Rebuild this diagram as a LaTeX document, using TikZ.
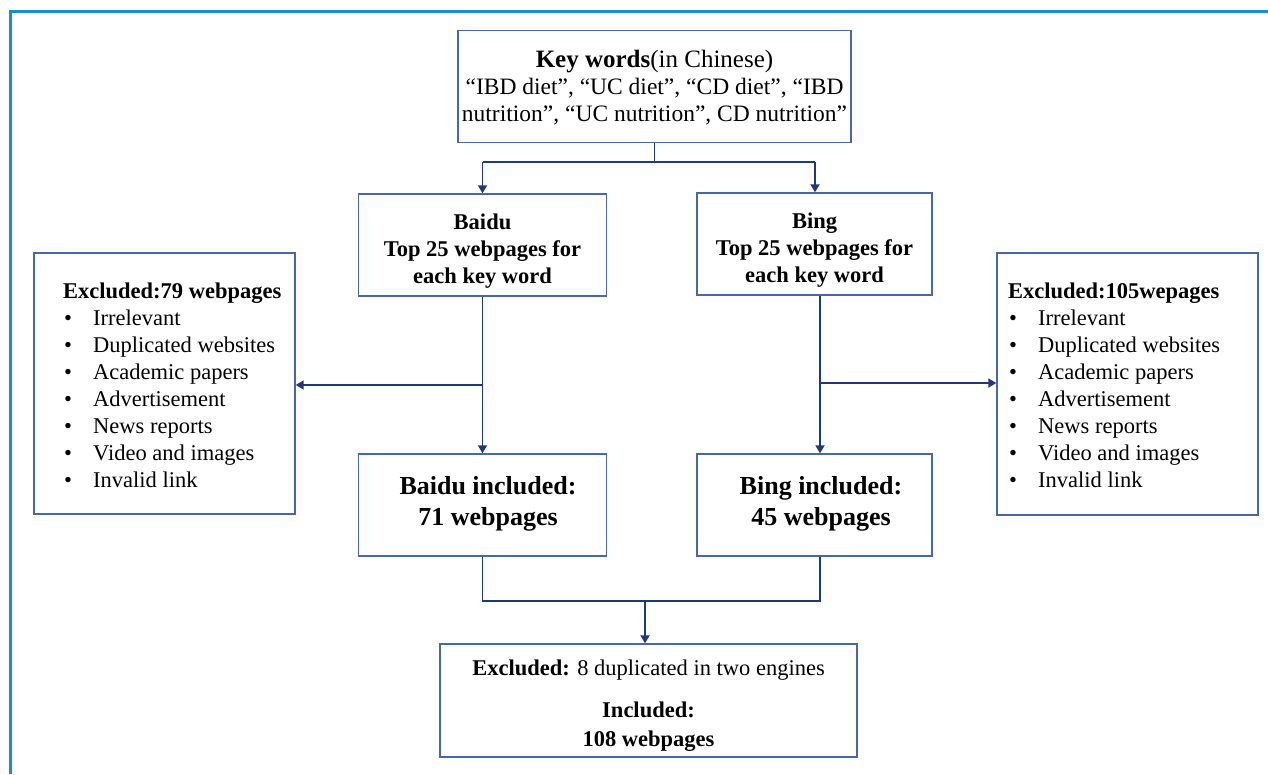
\documentclass[tikz,border=0pt]{standalone}
\usepackage{fontspec}
\setmainfont{Liberation Serif}
\usetikzlibrary{arrows.meta}
\definecolor{framec}{HTML}{1B8DC9}
\definecolor{boxc}{HTML}{4A68A8}
\definecolor{linec}{HTML}{1F3A7A}
\newcommand{\mybul}{\makebox[30pt][l]{\hspace{1pt}•}}
\begin{document}
\begin{tikzpicture}[x=1pt,y=-1pt,
  box/.style={draw=boxc,line width=1.4pt,inner sep=0pt,fill=white},
  conn/.style={draw=linec,line width=1.8pt},
  arr/.style={conn,-{Triangle[length=8pt,width=9pt]}},
  txt/.style={align=center,inner sep=0pt,font=\fontsize{23.5}{27}\selectfont},
  btxt/.style={align=center,inner sep=0pt,font=\fontsize{22.5}{27}\selectfont\bfseries},
  itxt/.style={align=center,inner sep=0pt,font=\fontsize{26}{31}\selectfont\bfseries},
  ftxt/.style={align=center,inner sep=0pt,font=\fontsize{22.5}{29}\selectfont},
  list/.style={align=left,inner sep=0pt,font=\fontsize{22.5}{27}\selectfont}]
\useasboundingbox (0,0) rectangle (1268,774);
\fill[white] (0,0) rectangle (1268,774);
\draw[framec,line width=3pt] (10,774) -- (10,11) -- (1268,11);

% boxes
\node[box,minimum width=393pt,minimum height=112pt] (key) at (654.5,86.5) {};
\node[box,minimum width=248pt,minimum height=102pt] (baidu) at (482.5,245) {};
\node[box,minimum width=235pt,minimum height=102pt] (bing) at (814.5,244) {};
\node[box,minimum width=261pt,minimum height=261pt] (exl) at (164.5,383.5) {};
\node[box,minimum width=261pt,minimum height=262pt] (exr) at (1127.5,384) {};
\node[box,minimum width=248pt,minimum height=102pt] (binc) at (482.5,505) {};
\node[box,minimum width=235pt,minimum height=102pt] (ginc) at (814.5,505) {};
\node[box,minimum width=417pt,minimum height=113pt] (fin) at (648.5,700.5) {};

% texts
\node[txt] (keyt) at (654.5,88) {{\fontsize{25}{27}\selectfont\textbf{Key words}(in Chinese)}\\“IBD diet”, “UC diet”, “CD diet”, “IBD\\nutrition”, “UC nutrition”, CD nutrition”};
\node[btxt] (baidut) at (482.5,251) {Baidu\\Top 25 webpages for\\each key word};
\node[btxt] (bingt) at (814.5,250) {Bing\\Top 25 webpages for\\each key word};
\node[itxt] (binct) at (488,504) {Baidu included:\\71 webpages};
\node[itxt] (ginct) at (821,504) {Bing included:\\45 webpages};
\node[ftxt] (fint) at (648.5,706) {\textbf{Excluded:} 8 duplicated in two engines\\[13pt]\textbf{Included:}\\\textbf{108 webpages}};
\node[list,anchor=west] (exlt) at (63,385) {\textbf{Excluded:79 webpages}\\\mybul Irrelevant\\\mybul Duplicated websites\\\mybul Academic papers\\\mybul Advertisement\\\mybul News reports\\\mybul Video and images\\\mybul Invalid link};
\node[list,anchor=west] (exrt) at (1008,385) {\textbf{Excluded:105wepages}\\\mybul Irrelevant\\\mybul Duplicated websites\\\mybul Academic papers\\\mybul Advertisement\\\mybul News reports\\\mybul Video and images\\\mybul Invalid link};

% connectors
\coordinate (kj) at (654.5,162);
\coordinate (ja) at (482.5,162);
\coordinate (jb) at (815,162);
\draw[conn] (key.south) -- (kj);
\draw[conn] (ja) -- (jb);
\draw[arr] (ja) -- (baidu.north);
\draw[arr] (jb) -- (jb |- bing.north);

\coordinate (bx) at (820,383);
\coordinate (lb) at (482.5,385);
\draw[arr] (baidu.south) -- (binc.north);
\draw[arr] (lb) -- (lb -| exl.east);
\draw[arr] (bing.south -| bx) -- (ginc.north -| bx);
\draw[arr] (bx) -- (bx -| exr.west);

\coordinate (mb) at (820,601);
\coordinate (mc) at (645,601);
\draw[conn] (binc.south) |- (mb) -- (ginc.south -| mb);
\draw[arr] (mc) -- (mc |- fin.north);
\end{tikzpicture}
\end{document}
